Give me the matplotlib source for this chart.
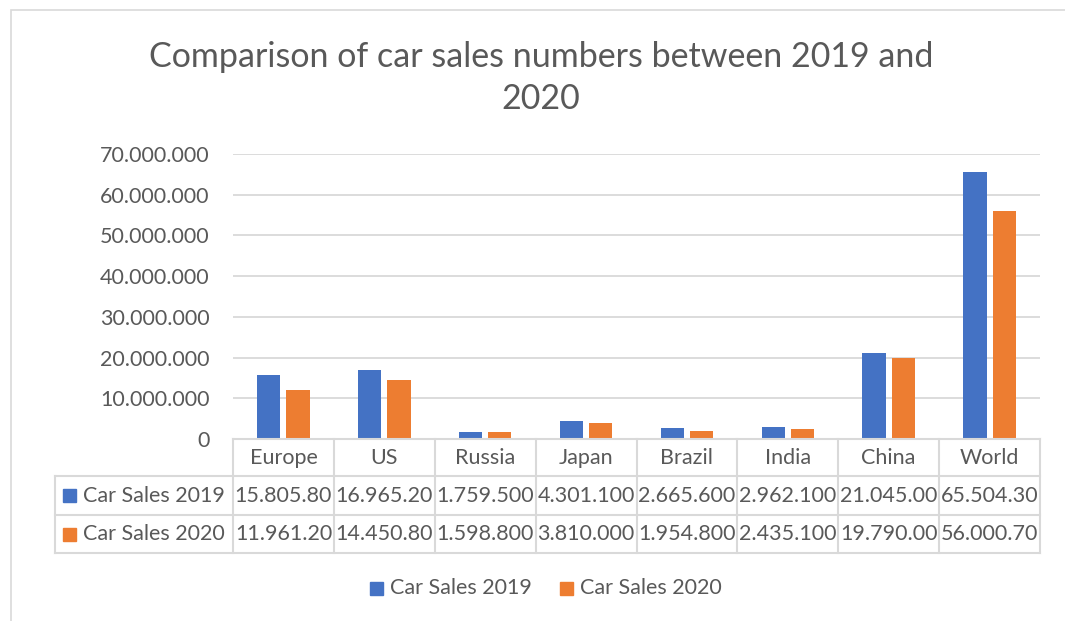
import matplotlib
matplotlib.use("Agg")
import matplotlib.pyplot as plt
from matplotlib.patches import Rectangle
from matplotlib.lines import Line2D
import matplotlib.transforms as mtransforms

categories = ["Europe", "US", "Russia", "Japan", "Brazil", "India", "China", "World"]
sales_2019 = [15805800, 16965200, 1759500, 4301100, 2665600, 2962100, 21045000, 65504300]
sales_2020 = [11961200, 14450800, 1598800, 3810000, 1954800, 2435100, 19790000, 56000700]
series_names = ["Car Sales 2019", "Car Sales 2020"]
title = "Comparison of car sales numbers between 2019 and\n2020"
yticks = [0, 10000000, 20000000, 30000000, 40000000, 50000000, 60000000, 70000000]

C19 = "#4472C4"
C20 = "#ED7D31"
TXT = "#595959"
GRID = "#D9D9D9"
FONT = "Lato"
FS = 15.5

W, H = 1065, 621
fig = plt.figure(figsize=(W / 100, H / 100), dpi=100)
plt.rcParams['font.family'] = [FONT, 'DejaVu Sans']


def fx(x):
    return x / W


def fy(y):
    return 1 - y / H


def fmt(v):
    return f"{v:,}".replace(",", ".")


# chart border
fig.add_artist(Rectangle((fx(11), fy(640)), fx(1070) - fx(11), fy(10) - fy(640),
                         transform=fig.transFigure, fill=False, ec="#D9D9D9", lw=1.2))

# axes
L, R, T, B = 233, 1040, 154, 439
ax = fig.add_axes([fx(L), fy(B), fx(R) - fx(L), fy(T) - fy(B)])
n = len(categories)
xs = list(range(n))
bw = 0.23
off = 0.145
ax.bar([x - off for x in xs], sales_2019, width=bw, color=C19, zorder=3)
ax.bar([x + off for x in xs], sales_2020, width=bw, color=C20, zorder=3)
ax.set_xlim(-0.5, n - 0.5)
ax.set_ylim(0, 70000000)
ax.set_yticks(yticks)
ax.set_yticklabels([fmt(v) for v in yticks], fontsize=FS, color=TXT)
ax.tick_params(axis="y", length=0, pad=17)
ax.tick_params(axis="x", length=0, labelbottom=False)
ax.grid(axis="y", color=GRID, lw=1.3, zorder=0)
for s in ax.spines.values():
    s.set_visible(False)

# data table
tr = mtransforms.blended_transform_factory(ax.transData, fig.transFigure)
rows_y = [439, 476, 515, 553]
cw = (R - L) / n
line_kw = dict(color=GRID, lw=1.5, transform=fig.transFigure)
fig.add_artist(Line2D([fx(L), fx(R)], [fy(rows_y[0])] * 2, **line_kw))
for y in rows_y[1:]:
    fig.add_artist(Line2D([fx(55), fx(R)], [fy(y)] * 2, **line_kw))
fig.add_artist(Line2D([fx(55), fx(55)], [fy(rows_y[1]), fy(rows_y[3])], **line_kw))
for k in range(n + 1):
    x = L + k * cw
    fig.add_artist(Line2D([fx(x), fx(x)], [fy(rows_y[0]), fy(rows_y[3])], **line_kw))

for i, c in enumerate(categories):
    fig.text(i, fy((rows_y[0] + rows_y[1]) / 2), c, transform=tr, ha="center", va="center",
             fontsize=FS, color=TXT)
    for r, vals in enumerate([sales_2019, sales_2020]):
        s = fmt(vals[i])[:9]
        fig.text(i, fy((rows_y[r + 1] + rows_y[r + 2]) / 2), s, transform=tr,
                 ha="center", va="center", fontsize=FS, color=TXT)

for r, (name, col) in enumerate(zip(series_names, [C19, C20])):
    yc = (rows_y[r + 1] + rows_y[r + 2]) / 2
    fig.add_artist(Rectangle((fx(63), fy(yc + 6.5)), fx(13), fy(0) - fy(13),
                             transform=fig.transFigure, color=col))
    fig.text(fx(83), fy(yc), name, ha="left", va="center", fontsize=FS, color=TXT)

# legend
for name, col, x0 in zip(series_names, [C19, C20], [370, 560]):
    fig.add_artist(Rectangle((fx(x0), fy(588 + 6.5)), fx(13), fy(0) - fy(13),
                             transform=fig.transFigure, color=col))
    fig.text(fx(x0 + 20), fy(588), name, ha="left", va="center", fontsize=FS, color=TXT)

# title
fig.text(fx(541), fy(78), title, ha="center", va="center", fontsize=24.5, color=TXT,
         linespacing=1.42)

fig.savefig("out.png", dpi=100)
